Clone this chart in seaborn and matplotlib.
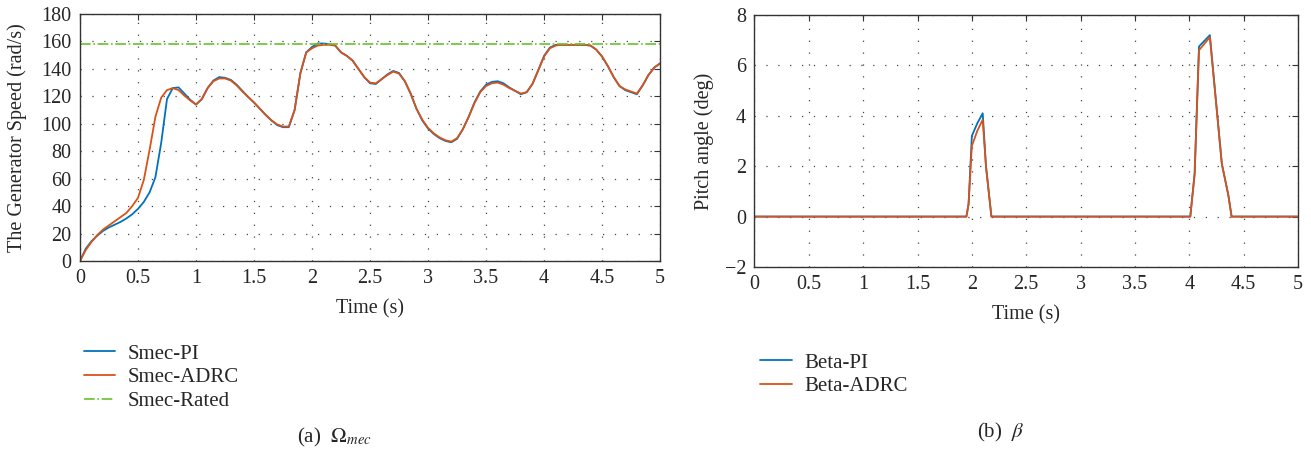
import numpy as np
import pandas as pd
import matplotlib
matplotlib.use("Agg")
import matplotlib.pyplot as plt
from matplotlib.ticker import FuncFormatter
import seaborn as sns

# Dados
t_speed = [0.00, 0.05, 0.10, 0.15, 0.20, 0.25, 0.30, 0.35, 0.40, 0.45,
           0.50, 0.55, 0.60, 0.65, 0.70, 0.75, 0.80, 0.85, 0.90, 0.95,
           1.00, 1.05, 1.10, 1.15, 1.20, 1.25, 1.30, 1.35, 1.40, 1.45,
           1.50, 1.55, 1.60, 1.65, 1.70, 1.75, 1.80, 1.85, 1.90, 1.95,
           2.00, 2.05, 2.10, 2.15, 2.20, 2.25, 2.30, 2.35, 2.40, 2.45,
           2.50, 2.55, 2.60, 2.65, 2.70, 2.75, 2.80, 2.85, 2.90, 2.95,
           3.00, 3.05, 3.10, 3.15, 3.20, 3.25, 3.30, 3.35, 3.40, 3.45,
           3.50, 3.55, 3.60, 3.65, 3.70, 3.75, 3.80, 3.85, 3.90, 3.95,
           4.00, 4.05, 4.10, 4.15, 4.20, 4.25, 4.30, 4.35, 4.40, 4.45,
           4.50, 4.55, 4.60, 4.65, 4.70, 4.75, 4.80, 4.85, 4.90, 4.95, 5.00]

smec_pi = [0, 9, 14.5, 18.5, 22, 24.5, 26.5, 28.5, 31, 34,
           38, 43, 50, 61, 86, 118, 126, 126.5, 122, 117.5,
           114, 118, 126, 131.5, 134, 133.5, 132, 128.5, 124, 119.5,
           115.5, 111, 106.5, 102.5, 99, 97.5, 97.5, 110, 137, 152,
           156, 158.5, 158.5, 158, 157, 152, 149.5, 146, 140, 134,
           129.5, 129, 132.5, 136, 138.5, 137, 131, 122, 111, 102.5,
           96.5, 92.5, 89.5, 87.5, 86.5, 89, 96, 105, 115.5, 123.5,
           128.5, 130.5, 131, 129.5, 126.5, 124, 121.5, 123, 129, 139,
           149.5, 155.5, 157.5, 157.5, 157.5, 157.5, 157.5, 157.5, 157, 154,
           149, 142, 134, 127.5, 124.5, 123, 121.5, 128, 135.5, 141, 144]

smec_adrc = [0, 8, 14, 19, 23, 26, 29, 32, 35, 40,
             46, 59, 81, 105, 119, 124.5, 126, 124.5, 120.5, 117,
             114, 118, 126, 131, 133, 133, 131.5, 128, 123.5, 119.5,
             115.5, 111, 106.5, 102.5, 99.5, 98, 98, 110, 137, 152,
             155, 157, 157.5, 157.5, 157, 152, 149.5, 146, 140, 134,
             130, 129.5, 132.5, 135.5, 138, 136.5, 131, 122, 111, 103,
             97, 93, 90, 88, 87, 89.5, 96, 105, 115, 123,
             127.5, 129.5, 130, 128.5, 126, 124, 122, 123, 129, 139,
             149, 155, 157, 157.5, 157.5, 157.5, 157.5, 157.5, 157, 154,
             149, 142, 134, 127.5, 125, 123.5, 122, 128, 135.5, 141, 144]

smec_rated = 158

t_beta = [0, 1.95, 1.97, 2.00, 2.05, 2.10, 2.13, 2.16, 2.18,
          4.01, 4.05, 4.09, 4.19, 4.30, 4.36, 4.39, 5.0]
beta_pi = [0, 0, 0.5, 3.2, 3.7, 4.1, 2.0, 0.8, 0,
           0, 1.7, 6.75, 7.2, 2.1, 0.85, 0, 0]
beta_adrc = [0, 0, 0.5, 2.8, 3.4, 3.85, 2.0, 0.8, 0,
             0, 1.7, 6.6, 7.12, 2.1, 0.85, 0, 0]

x_ticks = [0, 0.5, 1, 1.5, 2, 2.5, 3, 3.5, 4, 4.5, 5]

c_pi = '#0072BD'
c_adrc = '#D95319'
c_rated = '#66c22e'

sns.set_style("white")
plt.rcParams['font.family'] = ['Liberation Serif', 'DejaVu Serif']
plt.rcParams['mathtext.fontset'] = 'stix'
plt.rcParams['axes.unicode_minus'] = True
fs = 14.5

fig = plt.figure(figsize=(13.11, 4.51), dpi=100)
ax1 = fig.add_axes([0.061, 0.4213, 0.4425, 0.5477])
ax2 = fig.add_axes([0.5755, 0.408, 0.4145, 0.5588])

df_speed = pd.DataFrame({'t': t_speed, 'pi': smec_pi, 'adrc': smec_adrc})
df_beta = pd.DataFrame({'t': t_beta, 'pi': beta_pi, 'adrc': beta_adrc})

# (a) velocidade
sns.lineplot(data=df_speed, x='t', y='pi', ax=ax1, color=c_pi, lw=1.3, label='Smec-PI')
sns.lineplot(data=df_speed, x='t', y='adrc', ax=ax1, color=c_adrc, lw=1.3, label='Smec-ADRC')
ax1.axhline(smec_rated, color=c_rated, lw=1.2, ls='-.', label='Smec-Rated')
ax1.set_xlim(0, 5)
ax1.set_ylim(0, 180)
ax1.set_yticks(range(0, 181, 20))
ax1.set_ylabel('The Generator Speed (rad/s)', fontsize=fs)

# (b) pitch
sns.lineplot(data=df_beta, x='t', y='pi', ax=ax2, color=c_pi, lw=1.3, label='Beta-PI')
sns.lineplot(data=df_beta, x='t', y='adrc', ax=ax2, color=c_adrc, lw=1.3, label='Beta-ADRC')
ax2.set_xlim(0, 5)
ax2.set_ylim(-2, 8)
ax2.set_yticks(range(-2, 9, 2))
ax2.set_ylabel('Pitch angle (deg)', fontsize=fs)

fmt = FuncFormatter(lambda v, p: ('%g' % v).replace('-', '\u2212'))
for ax in (ax1, ax2):
    ax.set_xticks(x_ticks)
    ax.xaxis.set_major_formatter(fmt)
    ax.yaxis.set_major_formatter(fmt)
    ax.set_xlabel('Time (s)', fontsize=fs, labelpad=8)
    ax.tick_params(direction='in', top=True, right=True, labelsize=fs, length=4,
                   pad=6, color='#333333')
    ax.grid(True, color='#444444', lw=0.9, ls=(0, (1, 8.5)))
    for s in ax.spines.values():
        s.set_color('#333333')
        s.set_linewidth(1.0)
    ax.get_legend().remove()

ax1.yaxis.set_label_coords(-0.091, 0.5)
ax2.yaxis.set_label_coords(-0.075, 0.5)

h1, l1 = ax1.get_legend_handles_labels()
fig.legend(h1, l1, loc='upper left', bbox_to_anchor=(0.0496, 0.279), frameon=False,
           fontsize=15, handlelength=1.5, labelspacing=0.2, handletextpad=0.6)
h2, l2 = ax2.get_legend_handles_labels()
fig.legend(h2, l2, loc='upper left', bbox_to_anchor=(0.5657, 0.259), frameon=False,
           fontsize=15, handlelength=1.5, labelspacing=0.2, handletextpad=0.6)

fig.text(0.255, 0.029, r'(a)  $\Omega_{mec}$', ha='center', va='center', fontsize=15)
fig.text(0.763, 0.04, r'(b)  $\beta$', ha='center', va='center', fontsize=15)

fig.savefig('out.png', dpi=100)
